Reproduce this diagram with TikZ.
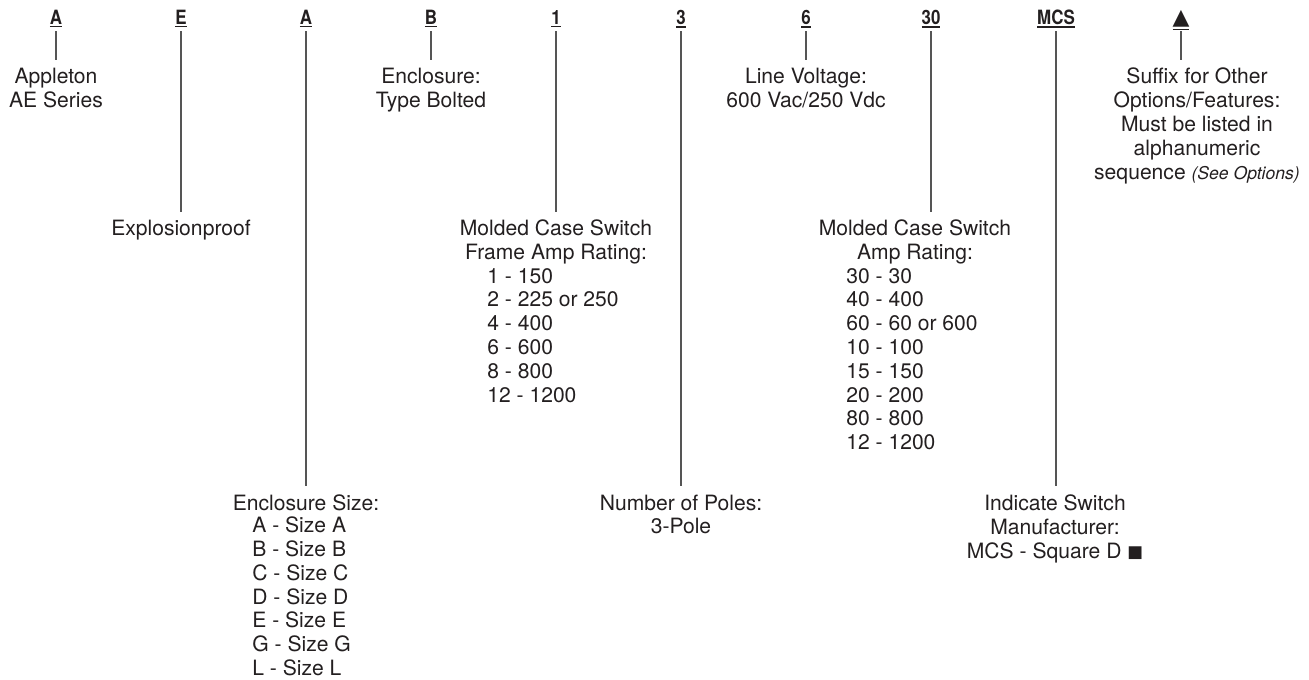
\documentclass[tikz,border=0pt]{standalone}
\usepackage{fontspec}
\setmainfont{TeX Gyre Heros}
\newfontfamily\symfont{DejaVu Sans}
\newfontfamily\codefont[FakeStretch=0.86]{TeX Gyre Heros}
\usepackage{tikz}
\usetikzlibrary{positioning}
\definecolor{inkcolor}{RGB}{35, 31, 32}
\definecolor{rulecolor}{RGB}{85, 85, 85}
\newcommand{\codemark}[1]{\setbox0\hbox{#1}\vtop{\copy0\kern1.2pt\hrule width\wd0 height0.75pt}}

\begin{document}
\begin{tikzpicture}[
    x=0.2mm, y=-0.2mm,
    code/.style={font=\codefont\fontsize{11.2}{12}\selectfont\bfseries, text=inkcolor, inner sep=0pt, text depth=0pt, anchor=base},
    desc/.style={font=\fontsize{12}{13.6}\selectfont, text=inkcolor, inner sep=0pt, align=center, anchor=north},
    choices/.style={font=\fontsize{12}{13.55}\selectfont, text=inkcolor, inner sep=0pt, align=left, anchor=north west},
    link/.style={draw=rulecolor, line width=0.7pt, shorten <=4pt, shorten >=4.5pt}
]
    \useasboundingbox (0,0) rectangle (1309,679);

    % Catalog code
    \node[code] (series) at (56,24) {\codemark{A}};
    \node[code] (explosion) at (181,24) {\codemark{E}};
    \node[code] (size) at (306,24) {\codemark{A}};
    \node[code] (type) at (431,24) {\codemark{B}};
    \node[code] (frame) at (556,24) {\codemark{1}};
    \node[code] (poles) at (681,24) {\codemark{3}};
    \node[code] (volt) at (806,24) {\codemark{6}};
    \node[code] (amp) at (931,24) {\codemark{30}};
    \node[code] (maker) at (1056,24) {\codemark{MCS}};
    \node[code] (suffix) at (1181,24) {\codemark{\symfont\fontsize{12.5}{12.5}\selectfont ▲}};

    % Descriptions
    \node[desc] (seriesinfo) at (56,67.5) {Appleton\\AE Series};
    \node[desc] (explosioninfo) at (181,219.8) {Explosionproof};
    \node[desc] (sizeinfo) at (306,494.3) {Enclosure Size:};
    \node[choices] (sizelist) at (252,516.5) {A - Size A\\B - Size B\\C - Size C\\D - Size D\\E - Size E\\G - Size G\\L - Size L};
    \node[desc] (typeinfo) at (431,67.5) {Enclosure:\\Type Bolted};
    \node[desc] (frameinfo) at (556,219.8) {Molded Case Switch\\Frame Amp Rating:};
    \node[choices] (framelist) at (487,267.8) {1 - 150\\2 - 225 or 250\\4 - 400\\6 - 600\\8 - 800\\12 - 1200};
    \node[desc] (polesinfo) at (681,494.3) {Number of Poles:\\3-Pole};
    \node[desc] (voltinfo) at (806,67.5) {Line Voltage:\\600 Vac/250 Vdc};
    \node[desc] (ampinfo) at (915,219.8) {Molded Case Switch\\Amp Rating:};
    \node[choices] (amplist) at (846,267.8) {30 - 30\\40 - 400\\60 - 60 or 600\\10 - 100\\15 - 150\\20 - 200\\80 - 800\\12 - 1200};
    \node[desc] (makerinfo) at (1055,494.3) {Indicate Switch\\Manufacturer:\\MCS - Square D {\symfont\fontsize{9.5}{9.5}\selectfont\raisebox{0.6pt}{■}}};
    \node[desc] (suffixinfo) at (1197,67.5) {Suffix for Other\\Options/Features:\\Must be listed in\\alphanumeric\\sequence {\fontsize{10}{12}\selectfont\itshape (See Options)}};

    % Leader lines
    \draw[link] (series) -- (series |- seriesinfo.north);
    \draw[link] (explosion) -- (explosion |- explosioninfo.north);
    \draw[link] (size) -- (size |- sizeinfo.north);
    \draw[link] (type) -- (type |- typeinfo.north);
    \draw[link] (frame) -- (frame |- frameinfo.north);
    \draw[link] (poles) -- (poles |- polesinfo.north);
    \draw[link] (volt) -- (volt |- voltinfo.north);
    \draw[link] (amp) -- (amp |- ampinfo.north);
    \draw[link] (maker) -- (maker |- makerinfo.north);
    \draw[link] (suffix) -- (suffix |- suffixinfo.north);
\end{tikzpicture}
\end{document}
